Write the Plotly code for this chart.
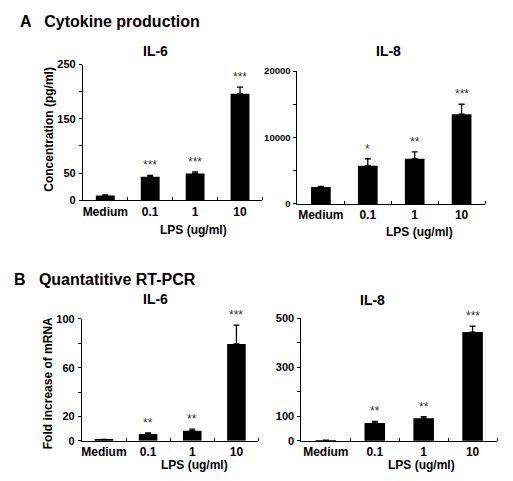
import plotly.graph_objects as go

W, H = 513, 481

categories = ["Medium", "0.1", "1", "10"]

# Panel A: cytokine production
a_il6 = [9, 43.5, 49.5, 196]
a_il6_err = [1, 2.5, 3, 12.5]
a_il6_stars = ["", "***", "***", "***"]

a_il8 = [2550, 5750, 6800, 13500]
a_il8_err = [100, 1050, 1050, 1500]
a_il8_stars = ["", "*", "**", "***"]

# Panel B: quantitative RT-PCR
b_il6 = [1, 5.6, 8.3, 79.5]
b_il6_err = [0.2, 1.0, 1.3, 15.5]
b_il6_stars = ["", "**", "**", "***"]

b_il8 = [2, 73, 92, 443]
b_il8_err = [1, 6, 7, 24]
b_il8_stars = ["", "**", "**", "***"]

a_il6_ticks = [0, 50, 100, 150, 200, 250]
a_il6_ticktext = ["0", "50", "", "150", "", "250"]
a_il8_ticks = [0, 5000, 10000, 15000, 20000]
a_il8_ticktext = ["0", "", "10000", "", "20000"]
b_il6_ticks = [0, 20, 40, 60, 80, 100]
b_il6_ticktext = ["0", "20", "", "60", "", "100"]
b_il8_ticks = [0, 100, 200, 300, 400, 500]
b_il8_ticktext = ["0", "100", "", "300", "", "500"]

FONT = "Arial, Liberation Sans, sans-serif"


def px_x(a, b):
    return [a / W, b / W]


def px_y(top, bottom):
    return [1 - bottom / H, 1 - top / H]


panels = [
    dict(vals=a_il6, err=a_il6_err, stars=a_il6_stars, xd=px_x(82, 262), yd=px_y(60, 199.3),
         yr=[0, 250], tv=a_il6_ticks, tt=a_il6_ticktext, tfs=11, title="IL-6", tx=155, ty=46, lps_x=193, lps_y=230),
    dict(vals=a_il8, err=a_il8_err, stars=a_il8_stars, xd=px_x(297, 485), yd=px_y(66.7, 203),
         yr=[0, 20000], tv=a_il8_ticks, tt=a_il8_ticktext, tfs=9.5, title="IL-8", tx=388, ty=46, lps_x=419, lps_y=232),
    dict(vals=b_il6, err=b_il6_err, stars=b_il6_stars, xd=px_x(81, 258), yd=px_y(321, 446),
         yr=[0, 100], tv=b_il6_ticks, tt=b_il6_ticktext, tfs=11, title="IL-6", tx=155, ty=301, lps_x=194, lps_y=471),
    dict(vals=b_il8, err=b_il8_err, stars=b_il8_stars, xd=px_x(301, 497), yd=px_y(320, 446),
         yr=[0, 500], tv=b_il8_ticks, tt=b_il8_ticktext, tfs=11, title="IL-8", tx=372, ty=302, lps_x=421, lps_y=471),
]

fig = go.Figure()
annotations = []
layout = {}
xpos = list(range(len(categories)))

for i, p in enumerate(panels, start=1):
    xa = "x" if i == 1 else f"x{i}"
    ya = "y" if i == 1 else f"y{i}"
    fig.add_trace(go.Bar(
        x=xpos, y=p["vals"], xaxis=xa, yaxis=ya, width=0.42,
        marker=dict(color="black", line=dict(width=0)),
        error_y=dict(type="data", array=p["err"], arrayminus=[0] * 4, color="black", thickness=1.3, width=3),
        showlegend=False,
    ))
    layout[f"xaxis{'' if i == 1 else i}"] = dict(
        domain=p["xd"], anchor=ya, range=[-0.5, 3.5], tickvals=xpos, ticktext=categories,
        ticks="", tickangle=0, showline=True, linecolor="black", linewidth=1, showgrid=False, zeroline=False,
        tickfont=dict(family=FONT, size=12, color="black", weight="bold"), fixedrange=True,
        minor=dict(tickvals=[0.5, 1.5, 2.5, 3.5], ticks="inside", ticklen=3, tickcolor="black", tickwidth=1),
    )
    layout[f"yaxis{'' if i == 1 else i}"] = dict(
        domain=p["yd"], anchor=xa, range=p["yr"], tickvals=p["tv"], ticktext=p["tt"],
        ticks="outside", ticklen=3, tickcolor="black", showline=True, linecolor="black", linewidth=1,
        showgrid=False, zeroline=False, ticklabelstandoff=1,
        tickfont=dict(family=FONT, size=p["tfs"], color="black", weight="bold"), fixedrange=True,
    )
    for xi, (v, e, s) in enumerate(zip(p["vals"], p["err"], p["stars"])):
        if s:
            annotations.append(dict(
                x=xi, y=v + e, xref=xa, yref=ya, text=s, showarrow=False, yanchor="bottom", yshift=1,
                font=dict(family=FONT, size=12, color="#333333"),
            ))
    annotations.append(dict(
        x=p["tx"] / W, y=1 - p["ty"] / H, xref="paper", yref="paper", text=p["title"], showarrow=False,
        xanchor="center", yanchor="middle", font=dict(family=FONT, size=14, color="black", weight="bold"),
    ))
    annotations.append(dict(
        x=p["lps_x"] / W, y=1 - p["lps_y"] / H, xref="paper", yref="paper", text="LPS (ug/ml)", showarrow=False,
        xanchor="center", yanchor="middle", font=dict(family=FONT, size=12, color="black", weight="bold"),
    ))

# section titles
annotations.append(dict(x=17 / W, y=1 - 16 / H, xref="paper", yref="paper", text="A   Cytokine production",
                        showarrow=False, xanchor="left", yanchor="middle",
                        font=dict(family=FONT, size=16, color="black", weight="bold")))
annotations.append(dict(x=11 / W, y=1 - 280 / H, xref="paper", yref="paper", text="B   Quantatitive RT-PCR",
                        showarrow=False, xanchor="left", yanchor="middle",
                        font=dict(family=FONT, size=16, color="black", weight="bold")))
# y-axis titles
annotations.append(dict(x=48 / W, y=1 - 126 / H, xref="paper", yref="paper", text="Concentration (pg/ml)",
                        showarrow=False, textangle=-90, xanchor="center", yanchor="middle",
                        font=dict(family=FONT, size=12, color="black", weight="bold")))
annotations.append(dict(x=47 / W, y=1 - 387 / H, xref="paper", yref="paper", text="Fold increase of mRNA",
                        showarrow=False, textangle=-90, xanchor="center", yanchor="middle",
                        font=dict(family=FONT, size=12, color="black", weight="bold")))

fig.update_layout(
    width=W, height=H, margin=dict(l=0, r=0, t=0, b=0),
    paper_bgcolor="white", plot_bgcolor="white",
    annotations=annotations, bargap=0.5, **layout,
)

fig.write_html("out.html", config={"displayModeBar": False})
